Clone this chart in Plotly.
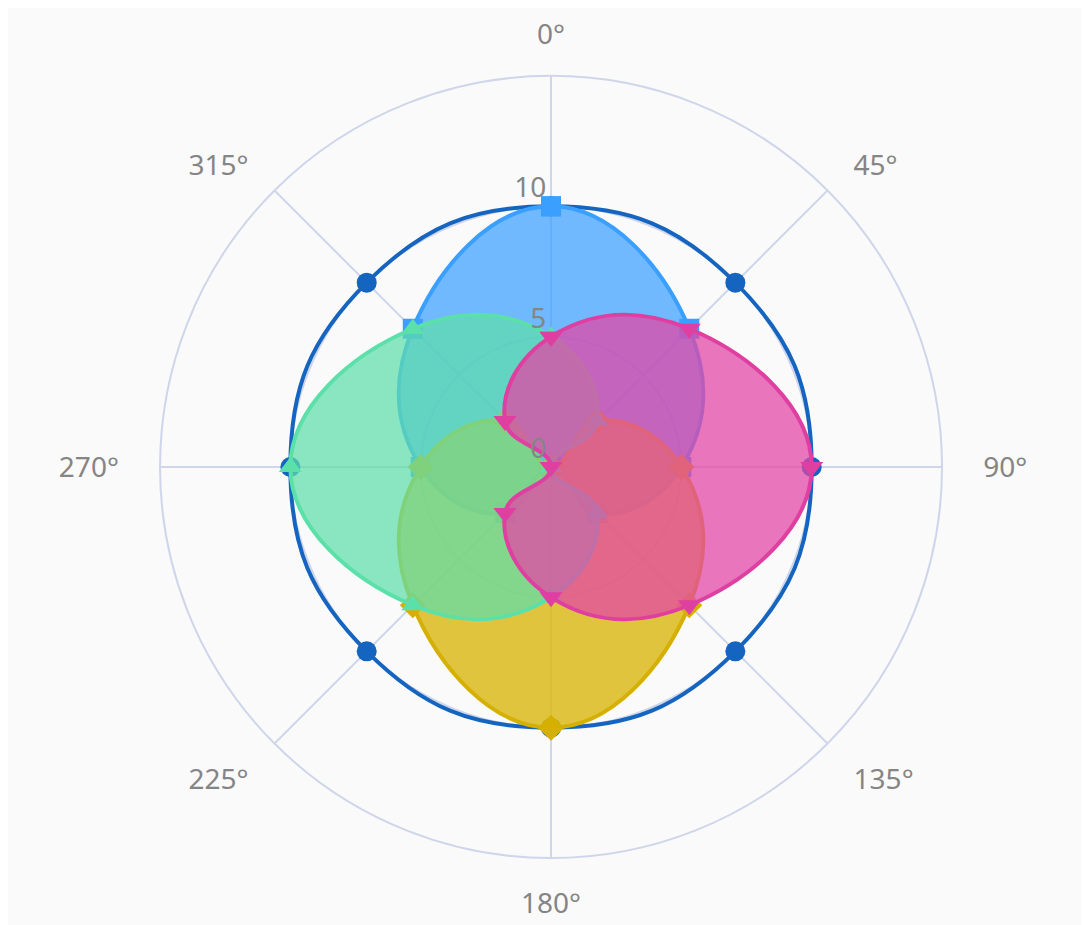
import plotly.graph_objects as go

# angles in degrees, clockwise from top
angles = [0, 45, 90, 135, 180, 225, 270, 315]
angle_labels = ['0°', '45°', '90°', '135°', '180°', '225°', '270°', '315°']

ring_r = [10, 10, 10, 10, 10, 10, 10, 10]
top_r = [10, 7.5, 5, 2.5, 0, 2.5, 5, 7.5]
bottom_r = [0, 2.5, 5, 7.5, 10, 7.5, 5, 2.5]
left_r = [5, 2.5, 0, 2.5, 5, 7.5, 10, 7.5]
right_r = [5, 7.5, 10, 7.5, 5, 2.5, 0, 2.5]

tick_vals = [0, 5, 10]


def closed(vals):
    # repeat first point so the spline closes the loop
    return list(vals) + [vals[0]]


def pad_label(a, lab):
    # push side labels a bit further from the rim
    nb = '\u00a0'
    if a in (90, 270):
        nb = nb * 2
    if 0 < a < 180:
        return nb + lab
    if a > 180:
        return lab + nb
    return lab


fig = go.Figure()

# outer ring, line only
fig.add_trace(go.Scatterpolar(
    r=closed(ring_r), theta=closed(angles), mode='lines+markers',
    line=dict(color='#1565c0', width=4, shape='spline', smoothing=1.3),
    marker=dict(symbol='circle', size=20, color='#1565c0'),
))

# filled lobes: (values, line colour, fill colour, marker)
lobes = [
    (top_r, '#3a9fff', 'rgba(58,159,255,0.72)', 'square'),
    (bottom_r, '#d6b000', 'rgba(218,184,20,0.82)', 'diamond'),
    (left_r, '#5ce0aa', 'rgba(94,222,170,0.72)', 'triangle-up'),
    (right_r, '#e03fa2', 'rgba(226,70,166,0.74)', 'triangle-down'),
]

for vals, line_c, fill_c, sym in lobes:
    fig.add_trace(go.Scatterpolar(
        r=closed(vals), theta=closed(angles), mode='lines+markers',
        fill='toself', fillcolor=fill_c,
        line=dict(color=line_c, width=4, shape='spline', smoothing=1.3),
        marker=dict(symbol=sym, size=20, color=line_c),
    ))

fig.update_layout(
    width=1089, height=925,
    margin=dict(l=0, r=0, t=0, b=0),
    paper_bgcolor='#fafafa',
    showlegend=False,
    font=dict(family='Noto Sans', size=28, color='#858585'),
    polar=dict(
        domain=dict(x=[0.1396, 0.8577], y=[0.0811, 0.9265]),
        bgcolor='#fafafa',
        radialaxis=dict(
            range=[0, 15], tickvals=tick_vals, angle=90, tickangle=90,
            # blank second line lifts each label above its grid value
            ticktext=[f'{v}<br>\u00a0' for v in tick_vals],
            showline=False, gridcolor='#cfd6ea', gridwidth=2,
            ticks='', tickfont=dict(size=28, color='#858585'),
            side='counterclockwise',
        ),
        angularaxis=dict(
            rotation=90, direction='clockwise',
            tickvals=angles,
            ticktext=[pad_label(a, t) for a, t in zip(angles, angle_labels)],
            gridcolor='#cfd6ea', gridwidth=2,
            linecolor='#cfd6ea', linewidth=2,
            ticks='outside', ticklen=20, tickcolor='rgba(0,0,0,0)',
            tickfont=dict(size=28, color='#858585'),
        ),
    ),
)

fig.write_html("out.html")
